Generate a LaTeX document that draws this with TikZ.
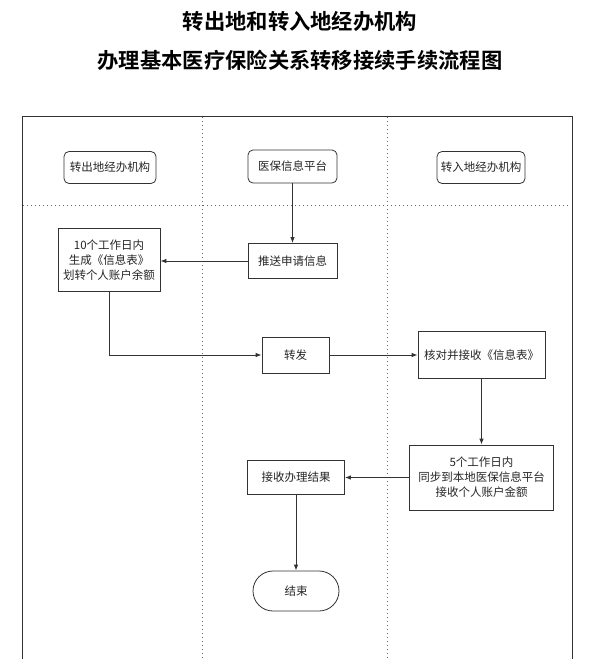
\documentclass[tikz,border=0pt]{standalone}
\usepackage{fontspec}
\setmainfont{Noto Sans CJK SC}
\newfontfamily\titlefont{Noto Sans CJK SC Bold}
\usetikzlibrary{arrows.meta,shapes.misc}
\definecolor{ln}{HTML}{333333}
\begin{document}
\begin{tikzpicture}[x=1pt,y=-1pt,
  box/.style={draw=ln,line width=0.8pt,inner sep=2pt,font=\fontsize{11.5}{15}\selectfont,align=center,text=black!85},
  hdr/.style={box,rounded corners=5pt},
  arr/.style={draw=ln,line width=0.8pt,-{Latex[length=6pt,width=4.5pt]}},
  lane/.style={draw=black!60,line width=0.9pt,dash pattern=on 1pt off 3pt}]
\useasboundingbox (0,0) rectangle (600,659);
\fill[white] (0,0) rectangle (600,659);
% title
\node[font=\titlefont\fontsize{21.3}{25}\selectfont] (t1) at (300,21) {转出地和转入地经办机构};
\node[font=\titlefont\fontsize{21.3}{25}\selectfont] (t2) at (300,60) {办理基本医疗保险关系转移接续手续流程图};
% frame
\draw[ln,line width=0.9pt] (22,661) -- (22,116) -- (572,116) -- (572,661);
\draw[lane] (202,117) -- (202,661);
\draw[lane] (387,117) -- (387,661);
\draw[lane] (23,205) -- (571,205);
% header nodes
\node[hdr,minimum width=92pt,minimum height=32pt] (h1) at (110,167.5) {转出地经办机构};
\node[hdr,minimum width=89pt,minimum height=33pt] (h2) at (292.5,166.5) {医保信息平台};
\node[hdr,minimum width=88pt,minimum height=32pt] (h3) at (481,167.5) {转入地经办机构};
% process nodes
\node[box,minimum width=89pt,minimum height=35pt] (push) at (292.5,261) {推送申请信息};
\node[box,minimum width=102pt,minimum height=63pt] (gen) at (109,260) {10个工作日内\\生成《信息表》\\划转个人账户余额};
\node[box,minimum width=67pt,minimum height=36pt] (fwd) at (295.5,355) {转发};
\node[box,minimum width=127pt,minimum height=47pt] (chk) at (481.5,355) {核对并接收《信息表》};
\node[box,minimum width=144pt,minimum height=65pt] (sync) at (481.5,477.5) {5个工作日内\\同步到本地医保信息平台\\接收个人账户金额};
\node[box,minimum width=97pt,minimum height=34pt] (res) at (296,477.5) {接收办理结果};
\node[box,shape=rounded rectangle,minimum width=90pt,minimum height=40pt] (end) at (296,591) {结束};
% connectors
\draw[arr] (h2.south) -- (h2.south |- push.north);
\draw[arr] (push.west) -- (push.west -| gen.east);
\draw[arr] (gen.south) |- (fwd.west);
\draw[arr] (fwd.east) -- (fwd.east -| chk.west);
\draw[arr] (chk.south) -- (chk.south |- sync.north);
\draw[arr] (sync.west) -- (sync.west -| res.east);
\draw[arr] (res.south) -- (res.south |- end.north);
\end{tikzpicture}
\end{document}
